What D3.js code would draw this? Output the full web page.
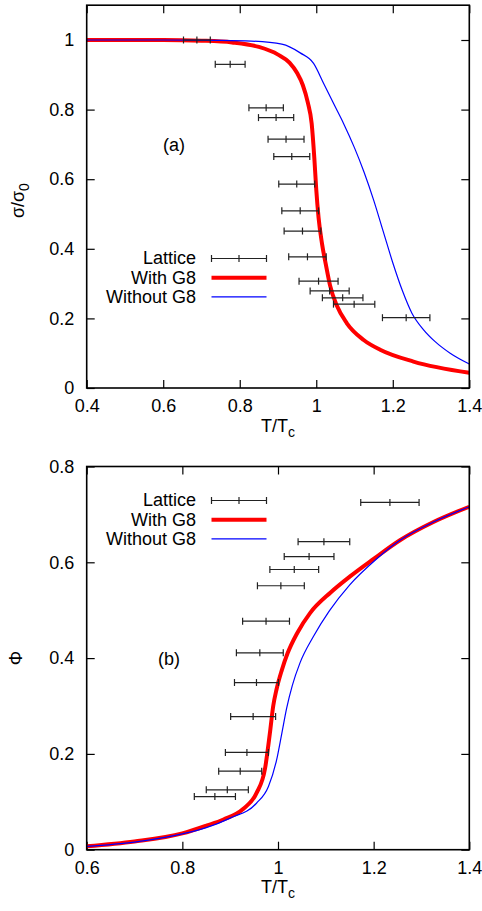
<!DOCTYPE html>
<html>
<head>
<meta charset="utf-8">
<script src="https://cdn.jsdelivr.net/npm/d3@7"></script>
<style>
  body { margin: 0; background: #fff; }
  svg { display: block; }
  text { font-family: "Liberation Sans", Arial, Helvetica, sans-serif; fill: #000; }
</style>
</head>
<body>
<script>
// ---- Panel (a): string tension sigma/sigma0 versus T/Tc ----
const latticeA_T   = [0.688, 0.775, 0.869, 0.895, 0.921, 0.936, 0.949, 0.958, 0.964, 0.977, 1.006, 1.035, 1.069, 1.099, 1.235];
const latticeA_val = [1.000, 0.930, 0.805, 0.777, 0.715, 0.665, 0.586, 0.509, 0.451, 0.377, 0.307, 0.279, 0.259, 0.241, 0.202];
const latticeA_err = [0.035, 0.039, 0.045, 0.046, 0.047, 0.047, 0.047, 0.048, 0.048, 0.049, 0.051, 0.051, 0.053, 0.054, 0.062];

const withG8A_T   = [0.4, 0.6, 0.7, 0.78, 0.85, 0.9, 0.93, 0.95, 0.965, 0.978, 0.988, 0.995, 1.0, 1.006, 1.015, 1.025, 1.036, 1.054, 1.08, 1.124, 1.167, 1.254, 1.4];
const withG8A_val = [1.0, 1.0, 0.998, 0.993, 0.98, 0.958, 0.935, 0.905, 0.87, 0.82, 0.76, 0.66, 0.57, 0.49, 0.415, 0.355, 0.295, 0.236, 0.186, 0.138, 0.11, 0.076, 0.044];

const noG8A_T   = [0.4, 0.6, 0.75, 0.83, 0.91, 0.958, 0.993, 1.019, 1.045, 1.071, 1.1, 1.125, 1.15, 1.175, 1.2, 1.225, 1.25, 1.28, 1.31, 1.35, 1.4];
const noG8A_val = [1.0, 1.0, 0.999, 0.997, 0.988, 0.963, 0.933, 0.876, 0.818, 0.761, 0.69, 0.62, 0.54, 0.45, 0.36, 0.28, 0.215, 0.168, 0.134, 0.1, 0.069];

const ticksA_x = [0.4, 0.6, 0.8, 1.0, 1.2, 1.4];
const ticksA_y = [0, 0.2, 0.4, 0.6, 0.8, 1.0];

// ---- Panel (b): Polyakov loop Phi versus T/Tc ----
const latticeB_T   = [1.234, 1.096, 1.065, 1.034, 1.006, 0.975, 0.962, 0.955, 0.948, 0.935, 0.921, 0.894, 0.868];
const latticeB_val = [0.725, 0.643, 0.612, 0.585, 0.551, 0.477, 0.411, 0.349, 0.278, 0.203, 0.164, 0.125, 0.111];
const latticeB_err = [0.061, 0.054, 0.052, 0.051, 0.049, 0.049, 0.049, 0.046, 0.047, 0.045, 0.045, 0.044, 0.043];

const withG8B_T   = [0.6, 0.7, 0.8, 0.85, 0.886, 0.927, 0.955, 0.973, 0.983, 0.99, 0.997, 1.008, 1.02, 1.04, 1.067, 1.11, 1.15, 1.2, 1.255, 1.325, 1.4];
const withG8B_val = [0.007, 0.017, 0.034, 0.05, 0.063, 0.085, 0.118, 0.17, 0.243, 0.30, 0.335, 0.375, 0.41, 0.452, 0.494, 0.537, 0.57, 0.607, 0.646, 0.684, 0.716];

const noG8B_T   = [0.6, 0.7, 0.8, 0.85, 0.9, 0.955, 0.98, 0.997, 1.008, 1.018, 1.03, 1.046, 1.074, 1.107, 1.15, 1.206, 1.255, 1.325, 1.4];
const noG8B_val = [0.007, 0.016, 0.033, 0.046, 0.066, 0.097, 0.132, 0.187, 0.243, 0.295, 0.343, 0.39, 0.445, 0.498, 0.553, 0.607, 0.646, 0.684, 0.716];

const ticksB_x = [0.6, 0.8, 1.0, 1.2, 1.4];
const ticksB_y = [0, 0.2, 0.4, 0.6, 0.8];

const legendLabels = ["Lattice", "With G8", "Without G8"];

const W = 482, H = 911;
const svg = d3.select("body").append("svg").attr("width", W).attr("height", H);

const fmt = d => String(+d.toFixed(1));
const FONT = 18;

function zip(ts, vs) { return ts.map((t, i) => [t, vs[i]]); }

function panel(opt) {
  const g = svg.append("g");
  const x = d3.scaleLinear().domain(opt.xDomain).range([opt.left, opt.right]);
  const y = d3.scaleLinear().domain(opt.yDomain).range([opt.bottom, opt.top]);

  // inward ticks on all four sides
  const ax = (sel, axis) => { sel.call(axis); sel.select(".domain").remove();
    sel.selectAll(".tick line").attr("stroke", "#000").attr("stroke-width", 1.2);
    sel.selectAll(".tick text").attr("font-size", FONT).attr("font-family", null); };

  g.append("g").attr("transform", `translate(0,${opt.bottom})`)
    .call(s => ax(s, d3.axisBottom(x).tickValues(opt.xTicks).tickSize(-8).tickPadding(11.5).tickFormat(fmt)));
  g.append("g").attr("transform", `translate(0,${opt.top})`)
    .call(s => ax(s, d3.axisTop(x).tickValues(opt.xTicks).tickSize(-8).tickFormat("")));
  g.append("g").attr("transform", `translate(${opt.left},0)`)
    .call(s => ax(s, d3.axisLeft(y).tickValues(opt.yTicks).tickSize(-8).tickPadding(12.5).tickFormat(fmt)));
  g.append("g").attr("transform", `translate(${opt.right},0)`)
    .call(s => ax(s, d3.axisRight(y).tickValues(opt.yTicks).tickSize(-8).tickFormat("")));

  // curves
  const line = d3.line().x(d => x(d[0])).y(d => y(d[1])).curve(d3.curveMonotoneX);
  const clipId = "clip" + opt.name;
  g.append("clipPath").attr("id", clipId).append("rect")
    .attr("x", opt.left).attr("y", opt.top).attr("width", opt.right - opt.left).attr("height", opt.bottom - opt.top);
  const cg = g.append("g").attr("clip-path", `url(#${clipId})`);
  cg.append("path").datum(zip(opt.withT, opt.withV)).attr("d", line)
    .attr("fill", "none").attr("stroke", "#ff0000").attr("stroke-width", 4);
  cg.append("path").datum(zip(opt.noT, opt.noV)).attr("d", line)
    .attr("fill", "none").attr("stroke", "#0000ff").attr("stroke-width", 1.2);

  // lattice points with horizontal error bars
  const pts = opt.latT.map((t, i) => ({ t, v: opt.latV[i], e: opt.latE[i] }));
  const eb = g.append("g").attr("stroke", "#222").attr("stroke-width", 1.2).attr("fill", "none");
  pts.forEach(p => {
    const cx = x(p.t), cy = y(p.v), x0 = x(p.t - p.e), x1 = x(p.t + p.e);
    eb.append("line").attr("x1", x0).attr("x2", x1).attr("y1", cy).attr("y2", cy);
    eb.append("line").attr("x1", x0).attr("x2", x0).attr("y1", cy - 3.5).attr("y2", cy + 3.5);
    eb.append("line").attr("x1", x1).attr("x2", x1).attr("y1", cy - 3.5).attr("y2", cy + 3.5);
    eb.append("line").attr("x1", cx).attr("x2", cx).attr("y1", cy - 3.5).attr("y2", cy + 3.5);
  });

  // frame
  g.append("rect").attr("x", opt.left).attr("y", opt.top)
    .attr("width", opt.right - opt.left).attr("height", opt.bottom - opt.top)
    .attr("fill", "none").attr("stroke", "#000").attr("stroke-width", 1.6);

  // legend
  const lx0 = 211.5, lx1 = 266.5, ltx = 196;
  legendLabels.forEach((lab, i) => {
    const ly = opt.legendY + i * 19.2;
    g.append("text").attr("x", ltx).attr("y", ly).attr("dy", "0.33em")
      .attr("text-anchor", "end").attr("font-size", FONT).text(lab);
    if (i === 0) {
      const lg = g.append("g").attr("stroke", "#222").attr("stroke-width", 1.2);
      lg.append("line").attr("x1", lx0).attr("x2", lx1).attr("y1", ly).attr("y2", ly);
      [lx0, (lx0 + lx1) / 2, lx1].forEach(xx =>
        lg.append("line").attr("x1", xx).attr("x2", xx).attr("y1", ly - 3.5).attr("y2", ly + 3.5));
    } else {
      g.append("line").attr("x1", lx0).attr("x2", lx1).attr("y1", ly).attr("y2", ly)
        .attr("stroke", i === 1 ? "#ff0000" : "#0000ff").attr("stroke-width", i === 1 ? 4 : 1.2);
    }
  });

  // panel tag
  g.append("text").attr("x", opt.tagX).attr("y", opt.tagY).attr("font-size", FONT).text(opt.tag);

  // x-axis title T/Tc
  const xt = g.append("text").attr("x", (opt.left + opt.right) / 2).attr("y", opt.bottom + 43.5)
    .attr("text-anchor", "middle").attr("font-size", FONT);
  xt.append("tspan").text("T/T");
  xt.append("tspan").attr("dy", 5).attr("font-size", 14).text("c");

  // y-axis title
  const yt = g.append("text")
    .attr("transform", `translate(${opt.yTitleX},${(opt.top + opt.bottom) / 2 + opt.yTitleShift}) rotate(-90)`)
    .attr("text-anchor", "middle").attr("font-size", FONT);
  opt.yTitle(yt);
}

panel({
  name: "a", left: 86.7, right: 469.3, top: 5.2, bottom: 388,
  xDomain: [0.4, 1.4], yDomain: [0, 1.1], xTicks: ticksA_x, yTicks: ticksA_y,
  latT: latticeA_T, latV: latticeA_val, latE: latticeA_err,
  withT: withG8A_T, withV: withG8A_val, noT: noG8A_T, noV: noG8A_val,
  legendY: 258.5, tag: "(a)", tagX: 163, tagY: 151,
  yTitleX: 24, yTitleShift: 4,
  yTitle: t => { t.append("tspan").text("σ/σ"); t.append("tspan").attr("dy", 5).attr("font-size", 14).text("0"); }
});

panel({
  name: "b", left: 86.7, right: 469.3, top: 466.5, bottom: 849.7,
  xDomain: [0.6, 1.4], yDomain: [0, 0.8], xTicks: ticksB_x, yTicks: ticksB_y,
  latT: latticeB_T, latV: latticeB_val, latE: latticeB_err,
  withT: withG8B_T, withV: withG8B_val, noT: noG8B_T, noV: noG8B_val,
  legendY: 500.5, tag: "(b)", tagX: 158, tagY: 665,
  yTitleX: 22, yTitleShift: 0,
  yTitle: t => { t.append("tspan").text("Φ"); }
});
</script>
</body>
</html>
